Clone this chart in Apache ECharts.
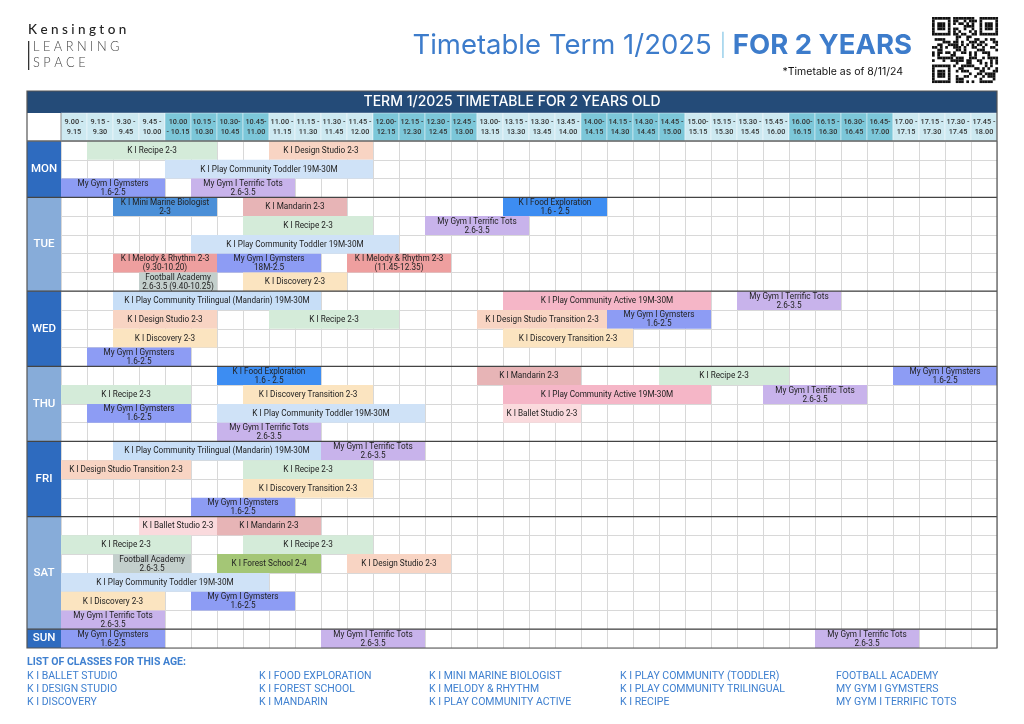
<!DOCTYPE html>
<html><head><meta charset="utf-8">
<script src="https://cdn.jsdelivr.net/npm/echarts@6/dist/echarts.min.js"></script>
<style>html,body{margin:0;padding:0;background:#fff}#c{width:1024px;height:724px}</style>
</head><body><div id="c"></div>
<script>
// ---------- DATA ----------
const days = ['MON','TUE','WED','THU','FRI','SAT','SUN'];
const dayRows = [3,5,4,4,4,6,1];
const timeHeaders = ['9.00 -\n9.15','9.15 -\n9.30','9.30 -\n9.45','9.45 -\n10.00','10.00\n- 10.15','10.15 -\n10.30','10.30-\n10.45','10.45-\n11.00',
 '11.00 -\n11.15','11.15 -\n11.30','11.30 -\n11.45','11.45 -\n12.00','12.00-\n12.15','12.15 -\n12.30','12.30 -\n12.45','12.45 -\n13.00',
 '13.00-\n13.15','13.15 -\n13.30','13.30 -\n13.45','13.45 -\n14.00','14.00-\n14.15','14.15 -\n14.30','14.30 -\n14.45','14.45 -\n15.00',
 '15.00-\n15.15','15.15 -\n15.30','15.30 -\n15.45','15.45 -\n16.00','16.00-\n16.15','16.15 -\n16.30','16.30-\n16.45','16.45-\n17.00',
 '17.00 -\n17.15','17.15 -\n17.30','17.30 -\n17.45','17.45 -\n18.00'];
// [subRow, startSlot, endSlot, type, label]  (slot 0 = 9.00, each slot 15 min)
const monSessions = [
 [0,1,6,'recipe','K I Recipe 2-3'],
 [0,8,12,'design','K I Design Studio 2-3'],
 [1,4,12,'toddler','K I Play Community Toddler 19M-30M'],
 [2,0,4,'gymsters','My Gym I Gymsters\n1.6-2.5'],
 [2,5,9,'tots','My Gym I Terrific Tots\n2.6-3.5']
];
const tueSessions = [
 [0,2,6,'marine','K I Mini Marine Biologist\n2-3'],
 [0,7,11,'mandarin','K I Mandarin 2-3'],
 [0,17,21,'food','K I Food Exploration\n1.6 - 2.5'],
 [1,7,12,'recipe','K I Recipe 2-3'],
 [1,14,18,'tots','My Gym I Terrific Tots\n2.6-3.5'],
 [2,5,13,'toddler','K I Play Community Toddler 19M-30M'],
 [3,2,6,'melody','K I Melody & Rhythm 2-3\n(9.30-10.20)'],
 [3,6,10,'gymsters','My Gym I Gymsters\n18M-2.5'],
 [3,11,15,'melody','K I Melody & Rhythm 2-3\n(11.45-12.35)'],
 [4,3,6,'football','Football Academy\n2.6-3.5 (9.40-10.25)'],
 [4,7,11,'discovery','K I Discovery 2-3']
];
const wedSessions = [
 [0,2,10,'trilingual','K I Play Community Trilingual (Mandarin) 19M-30M'],
 [0,17,25,'active','K I Play Community Active 19M-30M'],
 [0,26,30,'tots','My Gym I Terrific Tots\n2.6-3.5'],
 [1,2,6,'design','K I Design Studio 2-3'],
 [1,8,13,'recipe','K I Recipe 2-3'],
 [1,16,21,'design','K I Design Studio Transition 2-3'],
 [1,21,25,'gymsters','My Gym I Gymsters\n1.6-2.5'],
 [2,2,6,'discovery','K I Discovery 2-3'],
 [2,17,22,'discovery','K I Discovery Transition 2-3'],
 [3,1,5,'gymsters','My Gym I Gymsters\n1.6-2.5']
];
const thuSessions = [
 [0,6,10,'food','K I Food Exploration\n1.6 - 2.5'],
 [0,16,20,'mandarin','K I Mandarin 2-3'],
 [0,23,28,'recipe','K I Recipe 2-3'],
 [0,32,36,'gymsters','My Gym I Gymsters\n1.6-2.5'],
 [1,0,5,'recipe','K I Recipe 2-3'],
 [1,7,12,'discovery','K I Discovery Transition 2-3'],
 [1,17,25,'active','K I Play Community Active 19M-30M'],
 [1,27,31,'tots','My Gym I Terrific Tots\n2.6-3.5'],
 [2,1,5,'gymsters','My Gym I Gymsters\n1.6-2.5'],
 [2,6,14,'toddler','K I Play Community Toddler 19M-30M'],
 [2,17,20,'ballet','K I Ballet Studio 2-3'],
 [3,6,10,'tots','My Gym I Terrific Tots\n2.6-3.5']
];
const friSessions = [
 [0,2,10,'trilingual','K I Play Community Trilingual (Mandarin) 19M-30M'],
 [0,10,14,'tots','My Gym I Terrific Tots\n2.6-3.5'],
 [1,0,5,'design','K I Design Studio Transition 2-3'],
 [1,7,12,'recipe','K I Recipe 2-3'],
 [2,7,12,'discovery','K I Discovery Transition 2-3'],
 [3,5,9,'gymsters','My Gym I Gymsters\n1.6-2.5']
];
const satSessions = [
 [0,3,6,'ballet','K I Ballet Studio 2-3'],
 [0,6,10,'mandarin','K I Mandarin 2-3'],
 [1,0,5,'recipe','K I Recipe 2-3'],
 [1,7,12,'recipe','K I Recipe 2-3'],
 [2,2,5,'football','Football Academy\n2.6-3.5'],
 [2,6,10,'forest','K I Forest School 2-4'],
 [2,11,15,'design','K I Design Studio 2-3'],
 [3,0,8,'toddler','K I Play Community Toddler 19M-30M'],
 [4,0,4,'discovery','K I Discovery 2-3'],
 [4,5,9,'gymsters','My Gym I Gymsters\n1.6-2.5'],
 [5,0,4,'tots','My Gym I Terrific Tots\n2.6-3.5']
];
const sunSessions = [
 [0,0,4,'gymsters','My Gym I Gymsters\n1.6-2.5'],
 [0,10,14,'tots','My Gym I Terrific Tots\n2.6-3.5'],
 [0,29,33,'tots','My Gym I Terrific Tots\n2.6-3.5']
];
const classListCol1 = ['K I BALLET STUDIO','K I DESIGN STUDIO','K I DISCOVERY'];
const classListCol2 = ['K I FOOD EXPLORATION','K I FOREST SCHOOL','K I MANDARIN'];
const classListCol3 = ['K I MINI MARINE BIOLOGIST','K I MELODY & RHYTHM','K I PLAY COMMUNITY ACTIVE'];
const classListCol4 = ['K I PLAY COMMUNITY (TODDLER)','K I PLAY COMMUNITY TRILINGUAL','K I RECIPE'];
const classListCol5 = ['FOOTBALL ACADEMY','MY GYM I GYMSTERS','MY GYM I TERRIFIC TOTS'];

// ---------- STYLE ----------
const typeColors = {
 recipe:'#d4ebd9', design:'#f8d4c3', toddler:'#cfe2f7', gymsters:'#8d9cf4', tots:'#c8b3eb',
 marine:'#4b8fd7', mandarin:'#e7b4b6', food:'#3d8df2', melody:'#ee9f9f', football:'#c3cfcc',
 discovery:'#fbe4c0', trilingual:'#c7def7', active:'#f5b6c7', ballet:'#fadadd', forest:'#a4c676'
};
const dayColors = ['#2e6bbf','#87acd9','#2e6bbf','#87acd9','#2e6bbf','#87acd9','#2e6bbf'];
const TOTAL_ROWS = dayRows.reduce((a,b)=>a+b,0);
const dayStart = []; { let acc=0; dayRows.forEach(n=>{dayStart.push(acc); acc+=n;}); }
const allDays = [monSessions,tueSessions,wedSessions,thuSessions,friSessions,satSessions,sunSessions];
const sessions = [];
allDays.forEach((arr,d)=>arr.forEach(s=>sessions.push({row: dayStart[d]+s[0], start:s[1], end:s[2], type:s[3], label:s[4]})));

const FONT = 'Roboto, "Noto Sans", sans-serif';
const chart = echarts.init(document.getElementById('c'), null, {renderer:'canvas'});

const GL = 61, GW = 936, GT = 141, GH = 507;

function qrModules(){
  const n=25, out=[];
  const finder=(r,c,R,C)=>{const dr=r-R, dc=c-C; if(dr<0||dc<0||dr>6||dc>6) return null; const m=Math.max(Math.abs(dr-3),Math.abs(dc-3)); return m!==2;};
  for(let r=0;r<n;r++) for(let c=0;c<n;c++){
    let f=finder(r,c,0,0); if(f===null) f=finder(r,c,0,n-7); if(f===null) f=finder(r,c,n-7,0);
    let on;
    if(f!==null) on=f;
    else if((r===7&&c<8)||(c===7&&r<8)||(r===7&&c>=n-8)||(c===n-8&&r<8)||(r===n-8&&c<8)||(c===7&&r>=n-8)) on=false;
    else on = (((r*31+c*17)^(r*c+5))%5)<2 || ((r+c*3)%7===0);
    if(on) out.push({type:'rect', shape:{x:932+c*2.64, y:17+r*2.64, width:2.7, height:2.7}, style:{fill:'#111'}});
  }
  return out;
}

const listCols = [classListCol1,classListCol2,classListCol3,classListCol4,classListCol5];
const listX = [27,259,429,620,836];
const listGraphics = [];
listCols.forEach((col,ci)=>col.forEach((t,ri)=>listGraphics.push({type:'text', left:listX[ci], top:671+ri*13,
  style:{text:t, fill:'#3f80d0', font:'10.5px '+FONT}})));

const option = {
  animation:false,
  backgroundColor:'#fff',
  grid:[
    {left:GL, top:GT, width:GW, height:GH},
    {left:27, top:GT, width:34, height:GH},
    {left:GL, top:113, width:GW, height:28}
  ],
  xAxis:[
    {gridIndex:0, type:'value', min:0, max:36, interval:1, axisLine:{show:false}, axisTick:{show:false}, axisLabel:{show:false}, splitLine:{show:true, lineStyle:{color:'#d8d8d8', width:1}}},
    {gridIndex:1, type:'value', min:0, max:1, show:false},
    {gridIndex:2, type:'value', min:0, max:36, show:false}
  ],
  yAxis:[
    {gridIndex:0, type:'value', min:0, max:TOTAL_ROWS, interval:1, inverse:true, axisLine:{show:false}, axisTick:{show:false}, axisLabel:{show:false}, splitLine:{show:true, lineStyle:{color:'#d8d8d8', width:1}}},
    {gridIndex:1, type:'value', min:0, max:TOTAL_ROWS, inverse:true, show:false},
    {gridIndex:2, type:'value', min:0, max:1, inverse:true, show:false}
  ],
  graphic:[
    {type:'text', left:28, top:23, style:{text:'K e n s i n g t o n', fill:'#222', font:'500 13.5px Lato, sans-serif'}},
    {type:'rect', shape:{x:28, y:41, width:1.3, height:29}, style:{fill:'#333'}},
    {type:'text', left:33, top:40, style:{text:'L E A R N I N G', fill:'#444', font:'300 12.8px Lato, sans-serif'}},
    {type:'text', left:33, top:56, style:{text:'S P A C E', fill:'#444', font:'300 12.8px Lato, sans-serif'}},
    {type:'text', right:112, top:32, style:{text:'{a|Timetable Term 1/2025 }{b||}{c| FOR 2 YEARS}', rich:{
      a:{fill:'#3d7ccb', font:'400 27.5px Inter, sans-serif'},
      b:{fill:'#8fcbe9', font:'300 22px Inter, sans-serif'},
      c:{fill:'#3d7ccb', font:'700 27.5px Inter, sans-serif'}}}},
    {type:'text', right:121, top:66, style:{text:'*Timetable as of 8/11/24', fill:'#111', font:'10.5px Inter, sans-serif'}},
    {type:'group', children: qrModules()},
    {type:'rect', shape:{x:27, y:91, width:970, height:22}, style:{fill:'#244b78'}},
    {type:'text', x:512, y:102, style:{text:'TERM 1/2025 TIMETABLE FOR 2 YEARS OLD', fill:'#fff', font:'500 14px Inter, sans-serif', align:'center', verticalAlign:'middle'}},
    {type:'rect', shape:{x:27, y:91, width:970, height:557}, style:{fill:'none', stroke:'#555', lineWidth:1.2}, z:100},
    {type:'line', shape:{x1:27, y1:141, x2:997, y2:141}, style:{stroke:'#666', lineWidth:1.5}, z:100},
    {type:'line', shape:{x1:61, y1:113, x2:61, y2:141}, style:{stroke:'#888', lineWidth:1}, z:100},
    {type:'text', left:27, top:657, style:{text:'LIST OF CLASSES FOR THIS AGE:', fill:'#3f80d0', font:'bold 10.5px '+FONT}},
    ...listGraphics
  ],
  series:[
    {
      type:'custom', xAxisIndex:2, yAxisIndex:2, z:3,
      data: timeHeaders.map((t,i)=>[i]),
      renderItem:(params, api)=>{
        const i = api.value(0);
        const p0 = api.coord([i,0]), p1 = api.coord([i+1,1]);
        return {type:'group', children:[
          {type:'rect', shape:{x:p0[0], y:p0[1], width:p1[0]-p0[0], height:p1[1]-p0[1]},
           style:{fill: Math.floor(i/4)%2 ? '#7cc7d9' : '#cde9f1', stroke:'rgba(255,255,255,0.7)', lineWidth:0.6}},
          {type:'text', style:{text:timeHeaders[i], x:(p0[0]+p1[0])/2, y:(p0[1]+p1[1])/2, align:'center', verticalAlign:'middle',
           fill:'#333', font:'500 7.3px '+FONT, lineHeight:10}}
        ]};
      }
    },
    {
      type:'custom', xAxisIndex:1, yAxisIndex:1, z:3,
      data: days.map((d,i)=>[i]),
      renderItem:(params, api)=>{
        const i = api.value(0);
        const p0 = api.coord([0,dayStart[i]]), p1 = api.coord([1,dayStart[i]+dayRows[i]]);
        return {type:'group', children:[
          {type:'rect', shape:{x:p0[0], y:p0[1], width:p1[0]-p0[0], height:p1[1]-p0[1]}, style:{fill:dayColors[i]}},
          {type:'text', style:{text:days[i], x:(p0[0]+p1[0])/2, y:(p0[1]+p1[1])/2, align:'center', verticalAlign:'middle',
           fill:'#fff', font:'500 11.5px '+FONT}}
        ]};
      }
    },
    {
      type:'custom', xAxisIndex:0, yAxisIndex:0, z:4,
      data: sessions.map(s=>[s.start, s.end, s.row]),
      renderItem:(params, api)=>{
        const s = sessions[params.dataIndex];
        const p0 = api.coord([api.value(0), api.value(2)]), p1 = api.coord([api.value(1), api.value(2)+1]);
        return {type:'group', children:[
          {type:'rect', shape:{x:p0[0], y:p0[1], width:p1[0]-p0[0], height:p1[1]-p0[1]}, style:{fill:typeColors[s.type]}},
          {type:'text', style:{text:s.label, x:(p0[0]+p1[0])/2, y:(p0[1]+p1[1])/2+0.5, align:'center', verticalAlign:'middle',
           fill:'#222', font:'8.2px '+FONT, lineHeight:9}}
        ]};
      }
    },
    {
      type:'custom', xAxisIndex:0, yAxisIndex:0, z:6,
      data: dayStart.slice(1).map(r=>[r]),
      renderItem:(params, api)=>{
        const r = api.value(0);
        const p0 = api.coord([0,r]), p1 = api.coord([36,r]);
        return {type:'line', shape:{x1:27, y1:p0[1], x2:p1[0], y2:p1[1]}, style:{stroke:'#444', lineWidth:1.2}};
      }
    }
  ]
};
chart.setOption(option);
</script></body></html>
